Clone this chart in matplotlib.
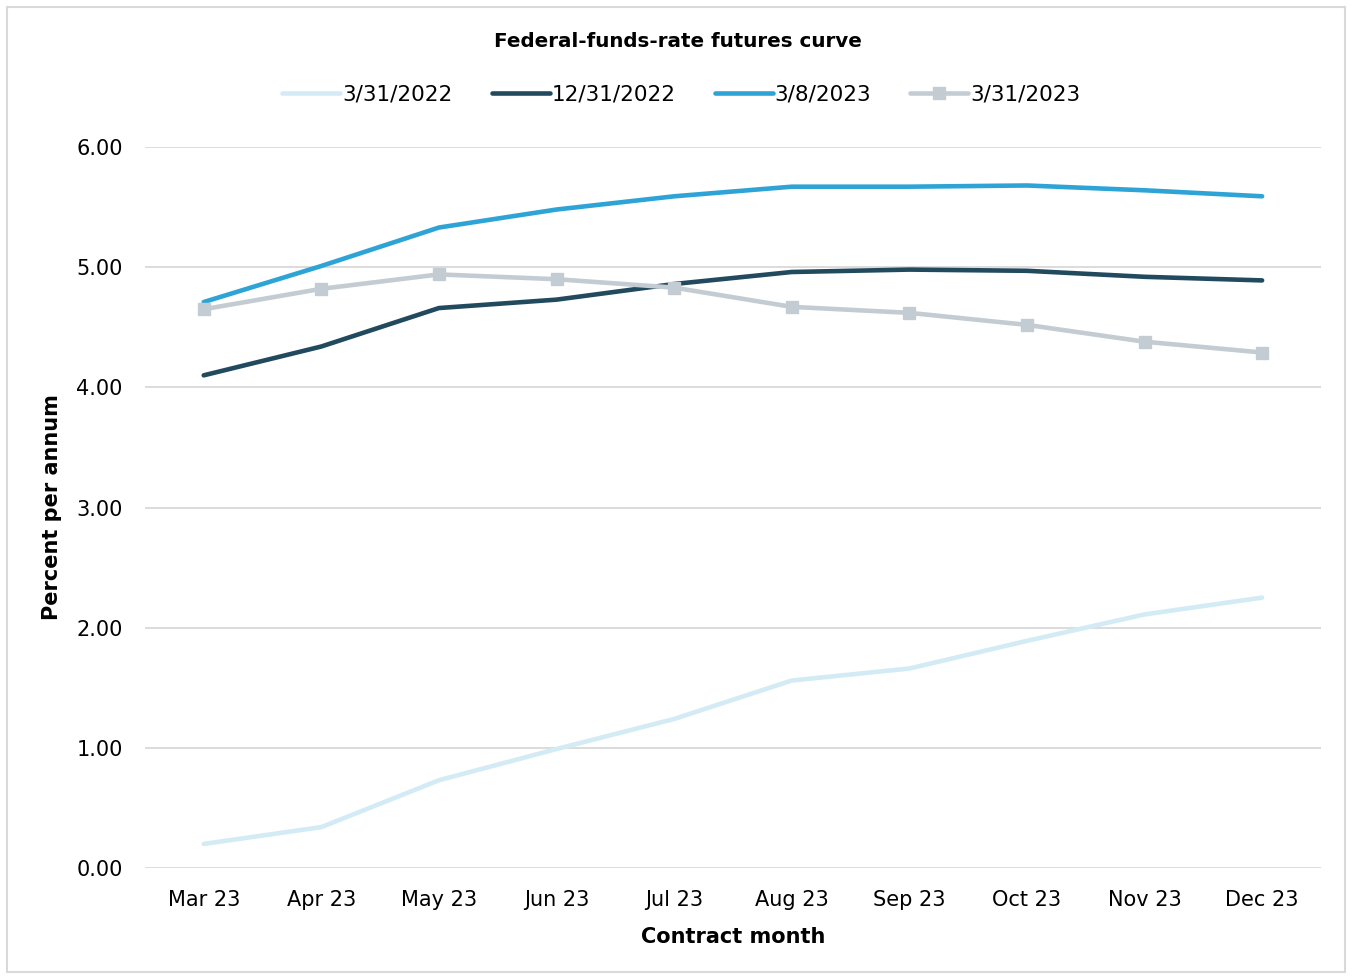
import matplotlib.pyplot as plt
from matplotlib.patches import Rectangle

plt.rcParams["font.family"] = ["DejaVu Sans"]

# Contract months and futures-implied rates (percent per annum)
months = ["Mar 23", "Apr 23", "May 23", "Jun 23", "Jul 23",
          "Aug 23", "Sep 23", "Oct 23", "Nov 23", "Dec 23"]
rates_2022_03_31 = [0.20, 0.34, 0.73, 0.99, 1.24, 1.56, 1.66, 1.89, 2.11, 2.25]
rates_2022_12_31 = [4.10, 4.34, 4.66, 4.73, 4.86, 4.96, 4.98, 4.97, 4.92, 4.89]
rates_2023_03_08 = [4.71, 5.01, 5.33, 5.48, 5.59, 5.67, 5.67, 5.68, 5.64, 5.59]
rates_2023_03_31 = [4.65, 4.82, 4.94, 4.90, 4.83, 4.67, 4.62, 4.52, 4.38, 4.29]
yticks = [0, 1, 2, 3, 4, 5, 6]

fig = plt.figure(figsize=(13.52, 9.77), dpi=100)
ax = fig.add_axes([0.1072, 0.1116, 0.8698, 0.7379])

x = range(len(months))
lw = 3.3
ax.plot(x, rates_2022_03_31, color="#d3ebf5", lw=lw, solid_capstyle="round",
        label="3/31/2022", zorder=3)
ax.plot(x, rates_2022_12_31, color="#224a5e", lw=lw, solid_capstyle="round",
        label="12/31/2022", zorder=3)
ax.plot(x, rates_2023_03_08, color="#2ea4d6", lw=lw, solid_capstyle="round",
        label="3/8/2023", zorder=3)
ax.plot(x, rates_2023_03_31, color="#c4ccd3", lw=lw, marker="s", ms=9,
        solid_capstyle="round", label="3/31/2023", zorder=4)

ax.set_xlim(-0.5, len(months) - 0.5)
ax.set_ylim(0, 6)
ax.set_yticks(yticks)
ax.set_yticklabels([f"{v:.2f}" for v in yticks])
ax.set_xticks(list(x))
ax.set_xticklabels(months)
ax.tick_params(length=0, labelsize=15, colors="black")
ax.tick_params(axis="x", pad=16)
ax.tick_params(axis="y", pad=16)
ax.grid(axis="y", color="#d9d9d9", lw=1.3)
ax.set_axisbelow(True)
for s in ax.spines.values():
    s.set_visible(False)

ax.set_xlabel("Contract month", fontsize=15, fontweight="bold", labelpad=12)
ax.set_ylabel("Percent per annum", fontsize=15, fontweight="bold", labelpad=10)

fig.text(0.5015, 0.958, "Federal-funds-rate futures curve", ha="center",
         va="center", fontsize=14.3, fontweight="bold")
fig.legend(loc="center", bbox_to_anchor=(0.504, 0.903), ncol=4, frameon=False,
           fontsize=15.5, handlelength=2.7, handletextpad=0.1, columnspacing=1.8)

# thin frame around the whole chart
fig.patches.append(Rectangle((0.005, 0.005), 0.99, 0.988, transform=fig.transFigure,
                             fill=False, edgecolor="#d9d9d9", lw=1.5))

fig.savefig("out.png", dpi=100)
